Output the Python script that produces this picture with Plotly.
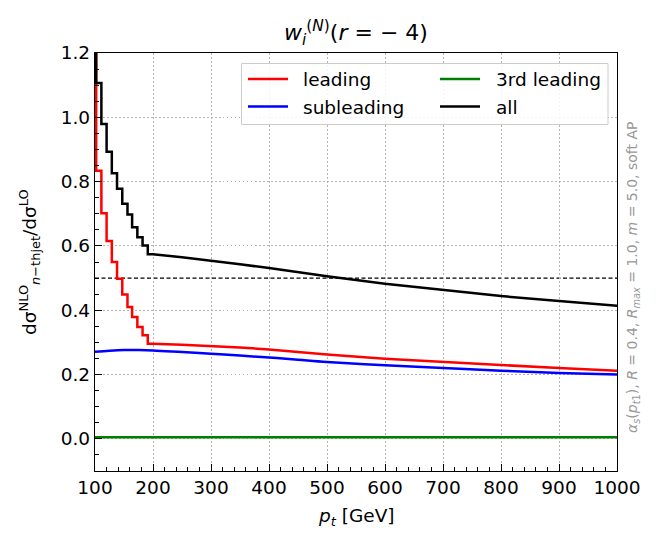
import plotly.graph_objects as go

# ---------------- data ----------------
# step (binned) region at low pt: bin edges and bin values
step_edges = [100, 102, 111, 120, 129, 138, 147, 156, 164, 173, 182, 191]
leading_steps = [1.25, 0.834, 0.702, 0.615, 0.550, 0.498, 0.449, 0.410, 0.379, 0.348, 0.322]
all_steps = [1.45, 1.107, 0.979, 0.893, 0.826, 0.778, 0.731, 0.698, 0.658, 0.627, 0.601]

# smooth region
pt_smooth = [191, 200, 250, 300, 350, 400, 450, 500, 600, 700, 800, 900, 1000]
leading_smooth = [0.296, 0.296, 0.293, 0.289, 0.284, 0.278, 0.270, 0.262, 0.249, 0.239, 0.229, 0.220, 0.212]
all_smooth = [0.574, 0.574, 0.565, 0.555, 0.543, 0.531, 0.518, 0.506, 0.482, 0.462, 0.444, 0.429, 0.414]

pt_sub = [100, 125, 150, 175, 200, 250, 300, 350, 400, 450, 500, 600, 700, 800, 900, 1000]
subleading = [0.271, 0.274, 0.276, 0.276, 0.275, 0.270, 0.265, 0.259, 0.253, 0.246, 0.239, 0.229, 0.220, 0.212, 0.205, 0.200]

pt_3rd = [100, 200, 400, 600, 800, 1000]
third = [0.005, 0.005, 0.005, 0.005, 0.005, 0.005]

ref_level = 0.5
x_ticks = [100, 200, 300, 400, 500, 600, 700, 800, 900, 1000]
y_ticks = [0.0, 0.2, 0.4, 0.6, 0.8, 1.0, 1.2]

# ---------------- helpers ----------------
def steps_then_smooth(edges, vals, xs, ys):
    x, y = [], []
    for i, v in enumerate(vals):
        x += [edges[i], edges[i + 1]]
        y += [v, v]
    x += xs
    y += ys
    return x, y

W, H = 661, 545
L, R, T, B = 95, 44, 53, 74
PW, PH = W - L - R, H - T - B

def px(xp):
    return (xp - L) / PW

def py(yp):
    return 1 - (yp - T) / PH

FONT = "DejaVu Sans"
FS = 18.5

fig = go.Figure()

fig.add_shape(type="line", xref="paper", yref="y", x0=0, x1=1, y0=ref_level, y1=ref_level,
              line=dict(color="black", width=1.1, dash="4px,2.5px"), layer="below")

xl, yl = steps_then_smooth(step_edges, leading_steps, pt_smooth, leading_smooth)
xa, ya = steps_then_smooth(step_edges, all_steps, pt_smooth, all_smooth)

fig.add_trace(go.Scatter(x=xl, y=yl, mode="lines", line=dict(color="#ff0000", width=2.5),
                         name="leading", showlegend=False))
fig.add_trace(go.Scatter(x=pt_sub, y=subleading, mode="lines", line=dict(color="#0000ff", width=2.5, shape="spline"),
                         name="subleading", showlegend=False))
fig.add_trace(go.Scatter(x=pt_3rd, y=third, mode="lines", line=dict(color="#008000", width=2.5),
                         name="3rd leading", showlegend=False))
fig.add_trace(go.Scatter(x=xa, y=ya, mode="lines", line=dict(color="black", width=2.5),
                         name="all", showlegend=False))

# ---------------- manual legend ----------------
fig.add_shape(type="rect", xref="paper", yref="paper",
              x0=px(241.5), x1=px(608), y0=py(124.5), y1=py(63.5),
              line=dict(color="#cccccc", width=1), fillcolor="rgba(255,255,255,0.85)", layer="above")
legend_entries = [("leading", "#ff0000", 0, 0), ("3rd leading", "#008000", 1, 0),
                  ("subleading", "#0000ff", 0, 1), ("all", "black", 1, 1)]
col_line = [(248, 288), (440, 480)]
col_text = [301, 494]
row_y = [79, 106.5]
for name, col, c, r in legend_entries:
    fig.add_shape(type="line", xref="paper", yref="paper",
                  x0=px(col_line[c][0]), x1=px(col_line[c][1]), y0=py(row_y[r]), y1=py(row_y[r]),
                  line=dict(color=col, width=2.5), layer="above")
    fig.add_annotation(xref="paper", yref="paper", x=px(col_text[c]), y=py(row_y[r] + 0.5),
                       text=name, showarrow=False, xanchor="left", yanchor="middle",
                       font=dict(family=FONT, size=FS, color="black"))

# ---------------- texts ----------------
fig.add_annotation(xref="paper", yref="paper", x=0.5, y=py(33),
                   text="<i>w</i><sub><i>i</i></sub><sup>(<i>N</i>)</sup>(<i>r</i> = − 4)",
                   showarrow=False, xanchor="center", yanchor="middle",
                   font=dict(family=FONT, size=22, color="black"))
fig.add_annotation(xref="paper", yref="paper", x=px(29), y=py(262),
                   text="dσ<sup>NLO</sup><sub><i>n</i>−thjet</sub>/dσ<sup>LO</sup>",
                   textangle=-90, showarrow=False, xanchor="center", yanchor="middle",
                   font=dict(family=FONT, size=FS, color="black"))
fig.add_annotation(xref="paper", yref="paper", x=0.5, y=py(517),
                   text="<i>p</i><sub><i>t</i></sub> [GeV]",
                   showarrow=False, xanchor="center", yanchor="middle",
                   font=dict(family=FONT, size=FS, color="black"))
fig.add_annotation(xref="paper", yref="paper", x=px(633), y=py(277),
                   text="<i>α</i><sub><i>s</i></sub>(<i>p</i><sub><i>t</i>1</sub>), <i>R</i> = 0.4, "
                        "<i>R</i><sub><i>max</i></sub> = 1.0, <i>m</i> = 5.0, soft AP",
                   textangle=-90, showarrow=False, xanchor="center", yanchor="middle",
                   font=dict(family=FONT, size=14, color="#999999"))

axis_common = dict(
    showline=True, linecolor="black", linewidth=1.3, mirror=True,
    ticks="inside", ticklen=7, tickwidth=1.2, tickcolor="black",
    showgrid=True, gridcolor="#b5b5b5", gridwidth=1, griddash="1.5px,2.5px",
    zeroline=False, tickfont=dict(family=FONT, size=FS, color="black"),
)

fig.update_xaxes(range=[100, 1000], tickvals=x_ticks, **axis_common,
                 minor=dict(dtick=20, ticks="inside", ticklen=4, tickwidth=1, tickcolor="black", showgrid=False))
fig.update_yaxes(range=[-0.1, 1.2], tickvals=y_ticks, tickformat=".1f", **axis_common,
                 minor=dict(dtick=0.05, tick0=0, ticks="inside", ticklen=4, tickwidth=1, tickcolor="black", showgrid=False))

fig.update_layout(
    width=W, height=H, autosize=False,
    margin=dict(l=L, r=R, t=T, b=B),
    paper_bgcolor="white", plot_bgcolor="white",
    font=dict(family=FONT, size=FS, color="black"),
    showlegend=False,
)

fig.write_html("out.html")
